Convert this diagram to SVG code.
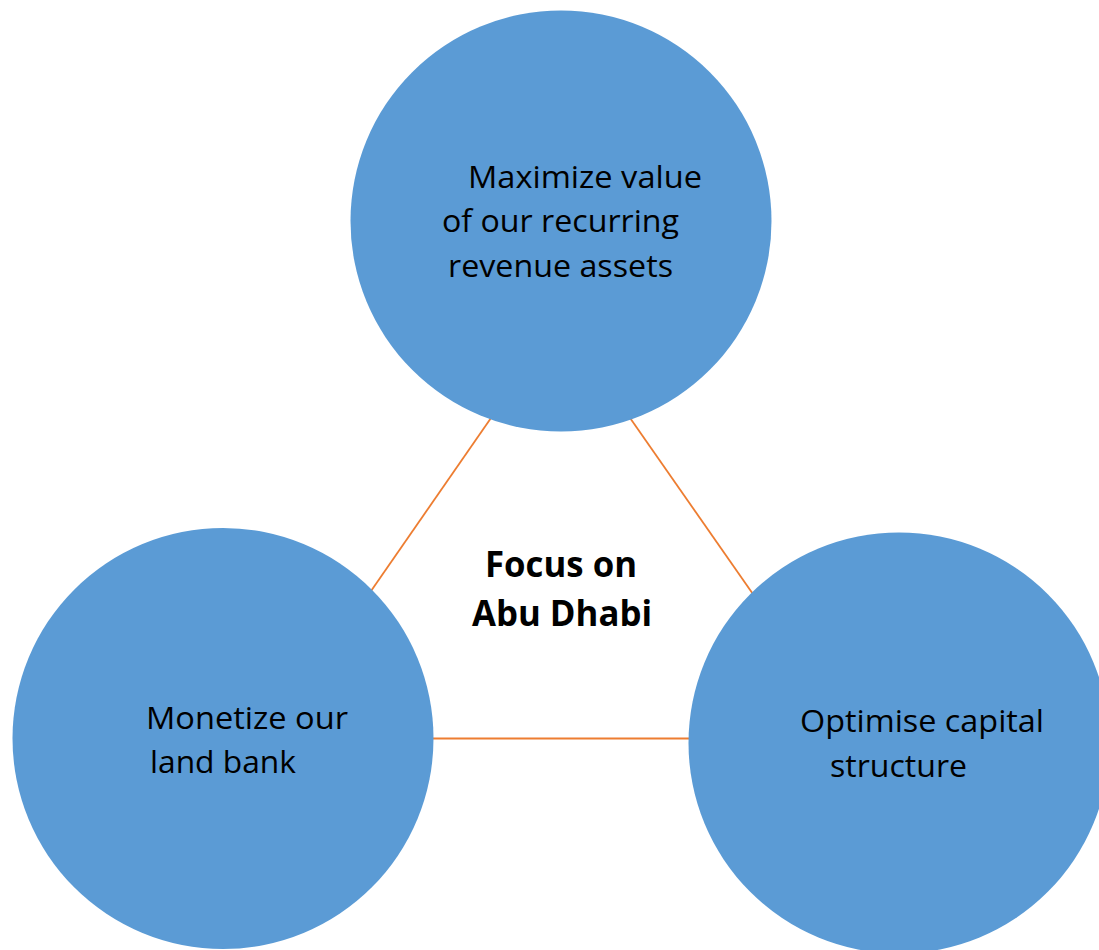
<svg xmlns="http://www.w3.org/2000/svg" width="1099" height="950" viewBox="0 0 1099 950">
<style>
.c{fill:#5B9BD5;}
.t{font-family:"Open Sans","Noto Sans","Liberation Sans",sans-serif;font-size:31px;fill:#000;}
.b{font-family:"Open Sans","Noto Sans","Liberation Sans",sans-serif;font-size:35px;font-weight:bold;fill:#000;text-anchor:middle;}
.l{stroke:#ED7D31;stroke-width:1.8;fill:none;}
</style>
<rect width="1099" height="950" fill="#fff"/>
<g id="connectors">
<line class="l" x1="500" y1="405" x2="362" y2="604"/>
<line class="l" x1="621" y1="405" x2="762" y2="607"/>
<line class="l" x1="420" y1="738.5" x2="700" y2="738.5"/>
</g>
<g id="center">
<text class="b" x="561" y="577" textLength="152" lengthAdjust="spacingAndGlyphs">Focus on</text>
<text class="b" x="562" y="626" textLength="180" lengthAdjust="spacingAndGlyphs">Abu Dhabi</text>
</g>
<g id="top">
<circle class="c" cx="561" cy="221" r="210.5"/>
<text class="t" x="468" y="188" textLength="234" lengthAdjust="spacingAndGlyphs">Maximize value</text>
<text class="t" x="442" y="232" textLength="237" lengthAdjust="spacingAndGlyphs">of our recurring</text>
<text class="t" x="448" y="277" textLength="225" lengthAdjust="spacingAndGlyphs">revenue assets</text>
</g>
<g id="left">
<circle class="c" cx="223" cy="738.5" r="210.5"/>
<text class="t" x="146" y="729" textLength="202" lengthAdjust="spacingAndGlyphs">Monetize our</text>
<text class="t" x="150" y="773" textLength="146" lengthAdjust="spacingAndGlyphs">land bank</text>
</g>
<g id="right">
<circle class="c" cx="899" cy="743" r="210.5"/>
<text class="t" x="800" y="732" textLength="244" lengthAdjust="spacingAndGlyphs">Optimise capital</text>
<text class="t" x="830" y="777" textLength="137" lengthAdjust="spacingAndGlyphs">structure</text>
</g>
</svg>
